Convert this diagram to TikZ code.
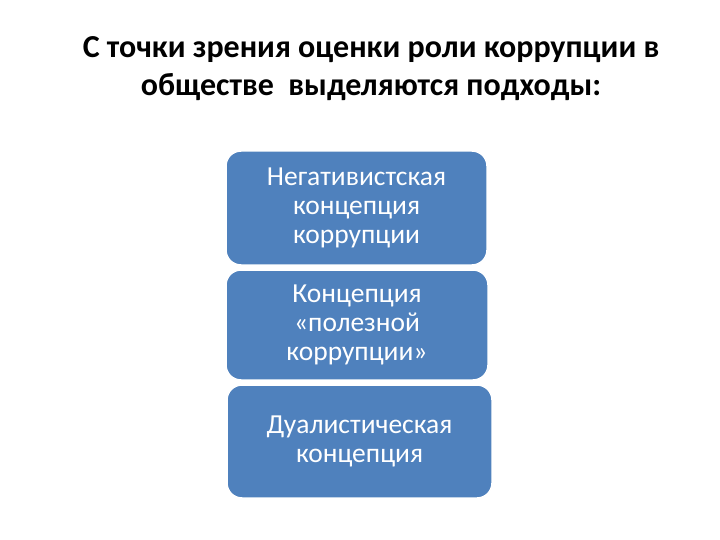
\documentclass[tikz,border=0pt]{standalone}
\usepackage{fontspec}
\setmainfont{Carlito}
\definecolor{boxblue}{HTML}{4F81BD}
\tikzset{
	appr/.style={draw=white, line width=1.5pt, fill=boxblue, rounded corners=15pt,
		text=white, align=center, inner sep=0pt,
		font=\fontsize{27.5}{29}\selectfont}
}
\begin{document}
\begin{tikzpicture}[x=1pt,y=-1pt]
		\useasboundingbox (0,0) rectangle (720,540);
		\node (t) at (371,69) [align=center, font=\fontsize{32}{38}\selectfont\bfseries] {С точки зрения оценки роли коррупции в\\обществе\ \ выделяются подходы:};
		\node (n) at (356.5,208) [appr, minimum width=261pt, minimum height=114pt] {Негативистская\\концепция\\коррупции};
		\node (u) at (357,325) [appr, minimum width=262pt, minimum height=110pt] {Концепция\\«полезной\\коррупции»};
		\node (d) at (359.5,441.5) [appr, minimum width=265pt, minimum height=113pt] {Дуалистическая\\концепция};
	\end{tikzpicture}
\end{document}
